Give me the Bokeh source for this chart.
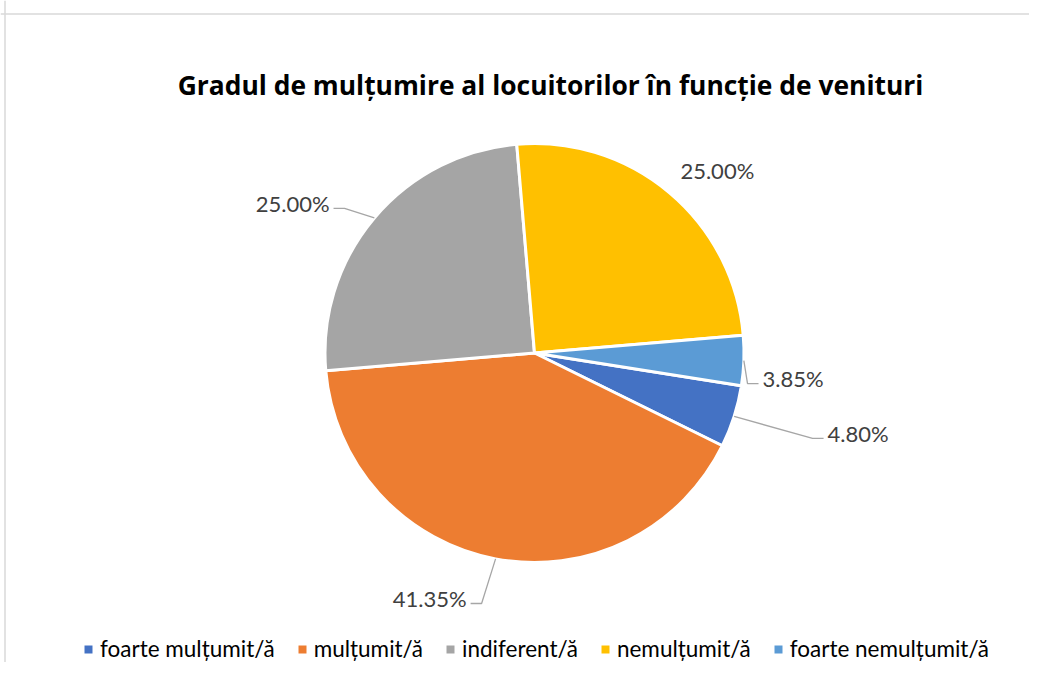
import numpy as np
from bokeh.plotting import figure
from bokeh.models import ColumnDataSource, Range1d, Span, Label, Legend, LegendItem
from bokeh.embed import file_html
from bokeh.resources import INLINE
from bokeh.core.properties import value

# ---------------- data ----------------
title_text = "Gradul de mulțumire al locuitorilor în funcție de venituri"
categories = ["foarte mulțumit/ă", "mulțumit/ă", "indiferent/ă", "nemulțumit/ă", "foarte nemulțumit/ă"]
values = [4.80, 41.35, 25.00, 25.00, 3.85]
colors = ["#4472C4", "#ED7D31", "#A5A5A5", "#FFC000", "#5B9BD5"]

# ---------------- layout ----------------
W, H = 1029, 662
cx, cy, R = 534.0, H - 352.5, 209.5
first_angle = 99.0                         # degrees clockwise from 12 o'clock
label_r = [301.4, 258.5, 247.6, 258.4, 226.1]   # distance of label anchor from centre
label_nudge = [-1.2, 3.6, -4.4, 4.9, 5.7]       # angular nudge (deg) from slice middle
has_leader = [True, True, True, False, True]
FONT = "Lato"

p = figure(width=W, height=H, output_backend="svg", toolbar_location=None,
           x_range=Range1d(0, W), y_range=Range1d(0, H),
           x_axis_type=None, y_axis_type=None, min_border=0,
           outline_line_color=None)
p.background_fill_color = "white"
p.border_fill_color = "white"

# chart area border (top / left)
p.add_layout(Span(location=H - 13.5, dimension="width", line_color="#D9D9D9", line_width=1.5))
p.add_layout(Span(location=4.5, dimension="height", line_color="#D9D9D9", line_width=1.5))

# ---------------- pie ----------------
vals = np.array(values, dtype=float)
cum = np.concatenate([[0.0], np.cumsum(vals)]) / vals.sum() * 360.0
a0 = first_angle + cum[:-1]
a1 = first_angle + cum[1:]
src = ColumnDataSource(dict(
    cat=categories, val=values, color=colors,
    start=np.radians(90.0 - a1), end=np.radians(90.0 - a0),
))
p.wedge(x=cx, y=cy, radius=R, start_angle="start", end_angle="end",
        direction="anticlock", fill_color="color", line_color="white",
        line_width=3, source=src)

# ---------------- data labels ----------------
mid = (a0 + a1) / 2.0
lx, ly, la, lt = [], [], [], []
xs, ys = [], []
for i, v in enumerate(values):
    th = np.radians(mid[i] + label_nudge[i])
    ax = cx + label_r[i] * np.sin(th)
    ay = cy + label_r[i] * np.cos(th)
    txt = f"{v:.2f}%"
    if has_leader[i]:
        side = 1 if np.sin(th) >= 0 else -1
        m = np.radians(mid[i])
        sx, sy = cx + R * np.sin(m), cy + R * np.cos(m)
        xs.append([sx, ax - side * 11, ax])
        ys.append([sy, ay, ay])
        lx.append(ax + side * 4)
        ly.append(ay + 5)
        la.append("left" if side > 0 else "right")
    else:
        lx.append(ax)
        ly.append(ay)
        la.append("center")
    lt.append(txt)

p.multi_line(xs=xs, ys=ys, line_color="#A6A6A6", line_width=1.3)
lab_src = ColumnDataSource(dict(x=lx, y=ly, text=lt, align=la))
p.text(x="x", y="y", text="text", text_align="align", text_baseline="middle",
       text_font=value(FONT), text_font_size="22px", text_color="#404040",
       source=lab_src)

# ---------------- title ----------------
p.add_layout(Label(x=550, y=H - 84, text=title_text, text_align="center",
                   text_baseline="middle", text_font="Open Sans", text_font_style="bold",
                   text_font_size="26.4px", text_color="#000000"))

# ---------------- legend ----------------
nan = [np.nan] * len(categories)
lsrc = ColumnDataSource(dict(l=nan, r=nan, t=nan, b=nan, color=colors))
lr = p.quad(left="l", right="r", top="t", bottom="b", fill_color="color",
            line_color=None, source=lsrc)
items = [LegendItem(label=c, renderers=[lr], index=i) for i, c in enumerate(categories)]
legend = Legend(items=items, orientation="horizontal", location=(83, 0),
                glyph_width=10, glyph_height=10, label_standoff=7, spacing=22,
                padding=0, margin=0, border_line_color=None,
                background_fill_alpha=0, label_text_font=FONT,
                label_text_font_size="22.5px", label_text_color="#000000")
p.add_layout(legend)

open("out.html", "w").write(file_html(p, INLINE))
